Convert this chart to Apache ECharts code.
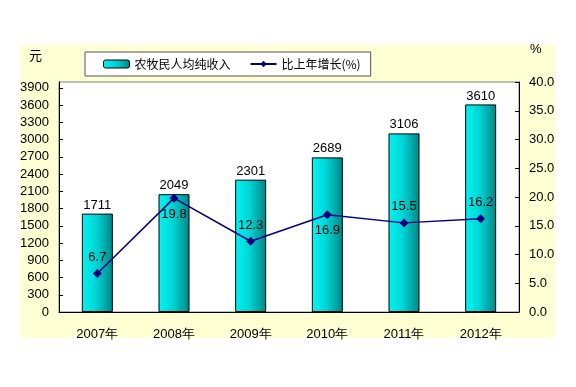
<!DOCTYPE html>
<html><head><meta charset="utf-8">
<script src="https://cdn.jsdelivr.net/npm/echarts@6/dist/echarts.min.js"></script>
<style>html,body{margin:0;padding:0;background:#fff}#c{width:576px;height:387px}</style>
</head><body><div id="c"></div>
<script>
const categories = ['2007年','2008年','2009年','2010年','2011年','2012年'];
const income = [1711, 2049, 2301, 2689, 3106, 3610];
const growth = [6.7, 19.8, 12.3, 16.9, 15.5, 16.2];
const growthLabelPos = ['top','bottom','top','bottom','top','top'];
const seriesNames = ['农牧民人均纯收入', '比上年增长(%)'];

const chart = echarts.init(document.getElementById('c'));
const barGrad = new echarts.graphic.LinearGradient(0,0,1,0,[
  {offset:0,color:'#00F4F4'},{offset:0.45,color:'#00D6D6'},{offset:1,color:'#008585'}]);
const font = 'Liberation Sans, Arial, sans-serif';
chart.setOption({
  animation:false,
  graphic:[
    {type:'rect', z:-10, shape:{x:20,y:45,width:535,height:293}, style:{fill:'#FFFFD4'}},
    {type:'text', left:29, top:49, style:{text:'元', font:'13px "Noto Sans CJK SC"', fill:'#000'}},
    {type:'text', left:530, top:43, style:{text:'%', font:'13px '+font, fill:'#000'}}
  ],
  legend:{
    left:85, top:52, padding:[6,10,6,18], itemGap:19,
    backgroundColor:'#fff', borderColor:'#555', borderWidth:1, borderRadius:0,
    itemWidth:26, itemHeight:8,
    textStyle:{fontFamily:'"Noto Sans CJK SC"', fontSize:12, color:'#000'},
    data:[{name:seriesNames[0], itemStyle:{borderColor:'#000',borderWidth:1}}, {name:seriesNames[1]}]
  },
  grid:{left:59, right:57, top:82, bottom:75, show:true, backgroundColor:'#fff', borderColor:'#808080', borderWidth:1},
  xAxis:{type:'category', data:categories,
    axisLine:{lineStyle:{color:'#000'}},
    axisTick:{inside:true, length:4, lineStyle:{color:'#000'}},
    axisLabel:{color:'#000', fontSize:13, fontFamily:font, margin:16}},
  yAxis:[
    {type:'value', min:0, max:4000, interval:300,
     axisLine:{show:true, lineStyle:{color:'#000'}},
     axisTick:{show:true, inside:true, length:4, lineStyle:{color:'#000'}},
     splitLine:{show:false},
     axisLabel:{showMaxLabel:false, color:'#000', fontSize:13, fontFamily:font, margin:10, formatter:v=>String(v)}},
    {type:'value', min:0, max:40, interval:5, position:'right',
     axisLine:{show:true, lineStyle:{color:'#000'}},
     axisTick:{show:true, inside:true, length:4, lineStyle:{color:'#000'}},
     splitLine:{show:false},
     axisLabel:{color:'#000', fontSize:13, fontFamily:font, margin:10, formatter:v=>v.toFixed(1)}}
  ],
  series:[
    {name:seriesNames[0], type:'bar', data:income, barWidth:31,
     itemStyle:{color:barGrad, borderColor:'#000', borderWidth:1},
     label:{show:true, position:'top', distance:2, color:'#000', fontSize:13, fontFamily:font}},
    {name:seriesNames[1], type:'line', yAxisIndex:1,
     data:growth.map((v,i)=>({value:v, label:{position:growthLabelPos[i]}})),
     symbol:'diamond', symbolSize:9,
     lineStyle:{color:'#000080', width:1.5}, itemStyle:{color:'#000080'},
     label:{show:true, distance:5, color:'#000', fontSize:13, fontFamily:font, formatter:p=>p.value.toFixed(1)}}
  ]
});
</script></body></html>
